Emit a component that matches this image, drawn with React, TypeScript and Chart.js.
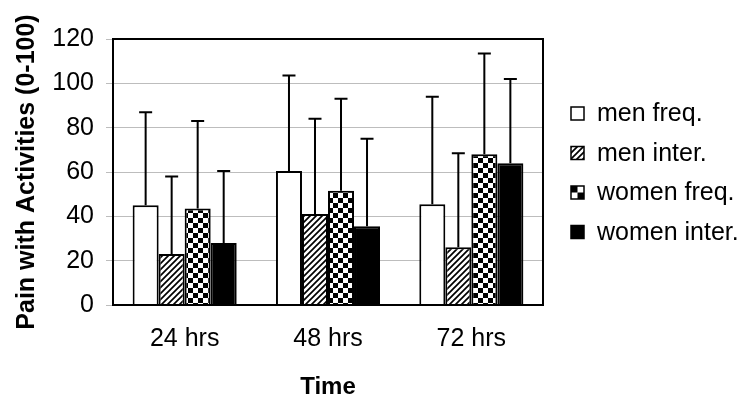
import React, { useEffect, useRef } from 'react';
import { Chart, registerables } from 'chart.js';

Chart.register(...registerables);

const categories = ['24 hrs', '48 hrs', '72 hrs'];
const seriesNames = ['men freq.', 'men inter.', 'women freq.', 'women inter.'];

const menFreq = [45, 60.5, 45.5];
const menInter = [23, 41, 26];
const womenFreq = [43.5, 51.5, 68];
const womenInter = [28, 35.5, 64];

const menFreqSD = [42, 43, 48.5];
const menInterSD = [35, 43, 42.5];
const womenFreqSD = [39.5, 41.5, 45.5];
const womenInterSD = [32.5, 39.5, 38];

const yMin = 0;
const yMax = 120;
const yStep = 20;

const FONT = '"Liberation Sans", Arial, sans-serif';

function hatchPattern(ctx: CanvasRenderingContext2D) {
  const n = 6;
  const c = document.createElement('canvas');
  c.width = n;
  c.height = n;
  const g = c.getContext('2d')!;
  g.fillStyle = '#ffffff';
  g.fillRect(0, 0, n, n);
  g.strokeStyle = '#000000';
  g.lineWidth = 1.7;
  g.beginPath();
  g.moveTo(0, n);
  g.lineTo(n, 0);
  g.moveTo(-n / 2, n / 2);
  g.lineTo(n / 2, -n / 2);
  g.moveTo(n / 2, n * 1.5);
  g.lineTo(n * 1.5, n / 2);
  g.stroke();
  return ctx.createPattern(c, 'repeat')!;
}

function checkerPattern(ctx: CanvasRenderingContext2D) {
  const s = 5;
  const c = document.createElement('canvas');
  c.width = s * 2;
  c.height = s * 2;
  const g = c.getContext('2d')!;
  g.fillStyle = '#ffffff';
  g.fillRect(0, 0, s * 2, s * 2);
  g.fillStyle = '#000000';
  g.fillRect(0, 0, s, s);
  g.fillRect(s, s, s, s);
  return ctx.createPattern(c, 'repeat')!;
}

export default function App() {
  const ref = useRef<HTMLCanvasElement | null>(null);

  useEffect(() => {
    const canvas = ref.current!;
    const ctx = canvas.getContext('2d')!;
    const fills: any[] = ['#ffffff', hatchPattern(ctx), checkerPattern(ctx), '#000000'];
    const values = [menFreq, menInter, womenFreq, womenInter];
    const sds = [menFreqSD, menInterSD, womenFreqSD, womenInterSD];

    const custom = {
      id: 'custom',
      afterDatasetsDraw(chart: any) {
        const c = chart.ctx;
        const ys = chart.scales.y;
        const a = chart.chartArea;
        c.save();
        c.strokeStyle = '#000';
        c.lineWidth = 2;
        c.strokeRect(a.left, a.top, a.right - a.left, a.bottom - a.top);
        chart.data.datasets.forEach((ds: any, i: number) => {
          const meta = chart.getDatasetMeta(i);
          meta.data.forEach((bar: any, j: number) => {
            const x = bar.x;
            const y0 = ys.getPixelForValue(values[i][j]);
            const y1 = ys.getPixelForValue(values[i][j] + sds[i][j]);
            c.beginPath();
            c.moveTo(x, y0);
            c.lineTo(x, y1);
            c.moveTo(x - 6.5, y1);
            c.lineTo(x + 6.5, y1);
            c.stroke();
          });
        });
        c.restore();
      },
      afterDraw(chart: any) {
        const c = chart.ctx;
        c.save();
        const rows = [105.5, 145, 184.5, 224];
        const bx = 563;
        const bs = 13;
        seriesNames.forEach((name, i) => {
          const cy = rows[i];
          const by = cy - bs / 2;
          if (i === 2) {
            c.fillStyle = '#fff';
            c.fillRect(bx, by, bs, bs);
            c.fillStyle = '#000';
            c.fillRect(bx, by, bs / 2, bs / 2);
            c.fillRect(bx + bs / 2, by + bs / 2, bs / 2, bs / 2);
          } else {
            c.fillStyle = fills[i];
            c.fillRect(bx, by, bs, bs);
          }
          c.strokeStyle = '#000';
          c.lineWidth = 1.5;
          c.strokeRect(bx, by, bs, bs);
          c.fillStyle = '#000';
          c.font = `25px ${FONT}`;
          c.textBaseline = 'middle';
          c.textAlign = 'left';
          c.fillText(name, 589, cy + 1);
        });
        c.restore();
      },
    };

    const chart = new Chart(canvas, {
      type: 'bar',
      data: {
        labels: categories,
        datasets: seriesNames.map((name, i) => ({
          label: name,
          data: values[i],
          backgroundColor: fills[i],
          borderColor: '#000000',
          borderWidth: 2,
          categoryPercentage: 0.726,
          barPercentage: 1,
        })),
      },
      options: {
        responsive: false,
        animation: false,
        devicePixelRatio: 1,
        layout: { padding: { top: 31, right: 199, left: 0, bottom: 0 } },
        plugins: {
          legend: { display: false },
          tooltip: { enabled: false },
        },
        scales: {
          x: {
            afterFit: (s: any) => {
              s.height = 94;
            },
            grid: { display: false, drawTicks: false },
            border: { display: true, color: '#000', width: 2 },
            ticks: {
              color: '#000',
              font: { family: FONT, size: 25 },
              padding: 19,
            },
            title: {
              display: true,
              text: 'Time',
              color: '#000',
              font: { family: FONT, size: 24, weight: 'bold', lineHeight: 1 },
              padding: { top: 3, bottom: 0 },
            },
          },
          y: {
            min: yMin,
            max: yMax,
            afterFit: (s: any) => {
              s.width = 105;
            },
            grid: {
              color: '#bdbdbd',
              lineWidth: 1,
              tickLength: 7,
              drawTicks: true,
            },
            border: { display: true, color: '#000', width: 2 },
            ticks: {
              stepSize: yStep,
              color: '#000',
              font: { family: FONT, size: 25 },
              padding: 12,
            },
            title: {
              display: true,
              text: 'Pain with Activities (0-100)',
              color: '#000',
              font: { family: FONT, size: 25, weight: 'bold', lineHeight: 1 },
              padding: { top: 7, bottom: 0 },
            },
          },
        },
      },
      plugins: [custom],
    } as any);

    return () => chart.destroy();
  }, []);

  return (
    <div style={{ width: 734, height: 391 }}>
      <canvas ref={ref} width={734} height={391} style={{ display: 'block' }} />
    </div>
  );
}
